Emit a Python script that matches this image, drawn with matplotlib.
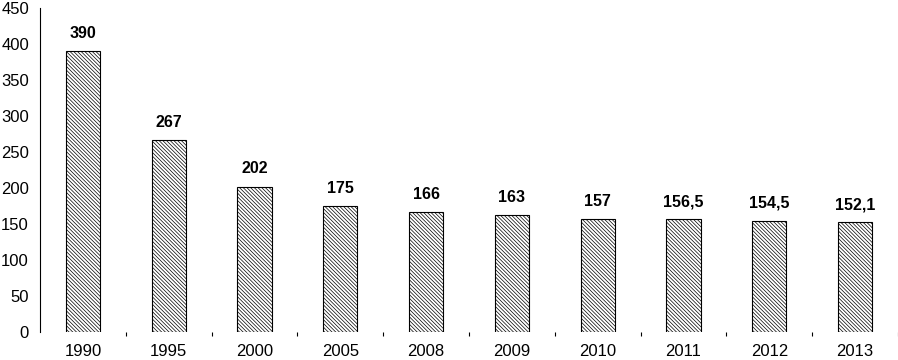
import matplotlib
matplotlib.use("Agg")
import matplotlib.pyplot as plt
import numpy as np

years = ["1990", "1995", "2000", "2005", "2008", "2009", "2010", "2011", "2012", "2013"]
values = [390, 267, 202, 175, 166, 163, 157, 156.5, 154.5, 152.1]
labels = ["390", "267", "202", "175", "166", "163", "157", "156,5", "154,5", "152,1"]

plt.rcParams['font.family'] = ['Liberation Sans', 'DejaVu Sans']
plt.rcParams['hatch.linewidth'] = 0.5

fig = plt.figure(figsize=(8.98, 3.6), dpi=100)
ax = fig.add_axes([40/898, 28/360, 858/898, 324/360])
x = np.arange(len(years))
ax.bar(x, values, width=0.4, color='white', edgecolor='black', linewidth=0.8, hatch='\\' * 9)
for xi, v, lab in zip(x, values, labels):
    ax.text(xi, v + 14, lab, ha='center', va='bottom', fontsize=11.5, fontweight='bold')

ax.set_xlim(-0.5, 9.5)
ax.set_ylim(0, 450)
ax.set_yticks(np.arange(0, 451, 50))
ax.set_xticks(x)
ax.set_xticklabels(years)
ax.set_xticks(np.arange(0.5, 9.6, 1), minor=True)
ax.tick_params(axis='x', which='major', length=0, pad=9, labelsize=12)
ax.tick_params(axis='x', which='minor', length=3, width=0.8)
ax.tick_params(axis='y', length=0, pad=8, labelsize=12)
for s in ['top', 'right', 'bottom']:
    ax.spines[s].set_visible(False)
ax.spines['left'].set_linewidth(0.8)

fig.savefig("out.png", dpi=100)
